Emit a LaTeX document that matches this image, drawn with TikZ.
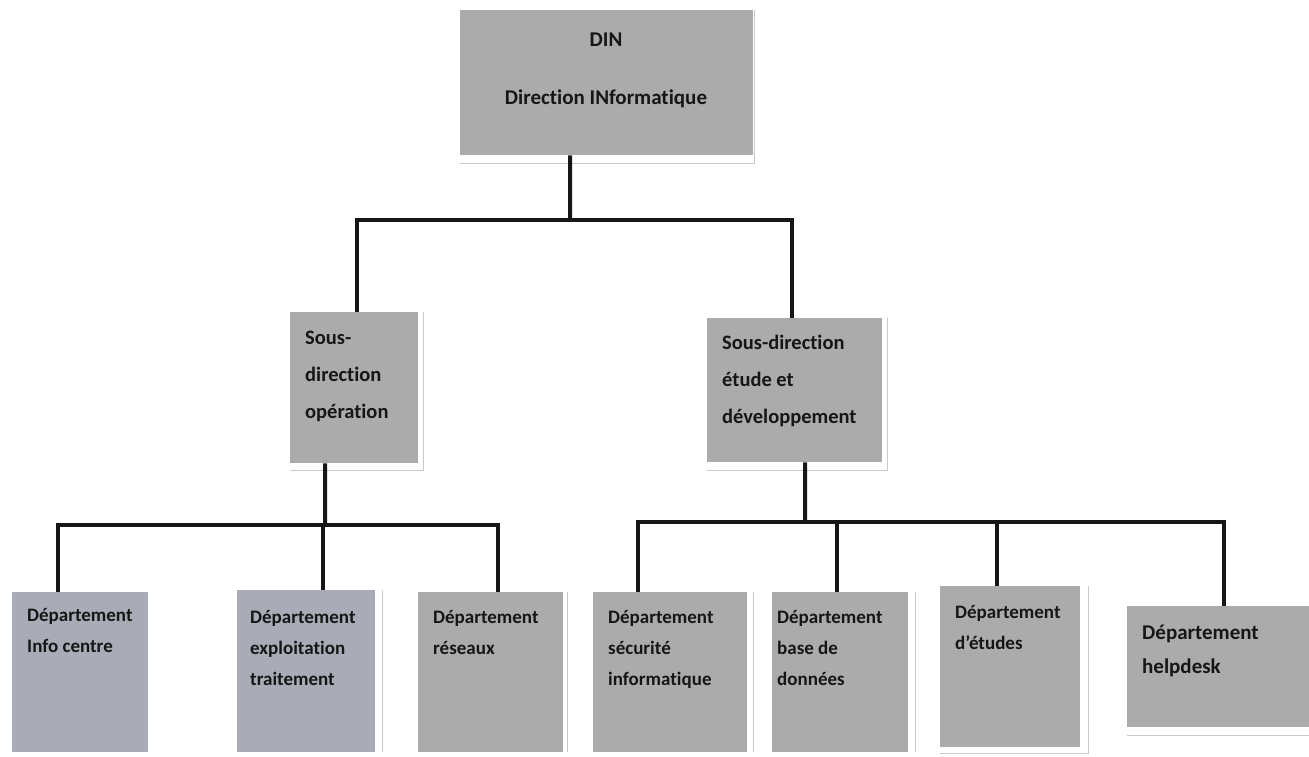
\documentclass[tikz,border=0pt]{standalone}
\usepackage{fontspec}
\setmainfont[Ligatures=NoCommon]{Carlito}
\definecolor{boxgray}{HTML}{ABABAB}
\definecolor{boxblue}{HTML}{A9ACB6}
\definecolor{edgegray}{HTML}{C9C9C9}
\definecolor{ink}{HTML}{161616}
\begin{document}
\begin{tikzpicture}[x=1pt,y=-1pt,
  orgbox/.style={rectangle, fill=boxgray, draw=none, inner sep=0pt, anchor=north west},
  shadowline/.style={draw=edgegray, line width=1.6pt},
  conn/.style={draw=ink, line width=4pt, line join=miter},
  % multi-line labels are placed by the baseline of their last line
  toptxt/.style={text=ink, inner sep=0pt, align=center, anchor=base,
    font={\fontsize{21}{30}\selectfont\bfseries}},
  subtxt/.style={text=ink, inner sep=0pt, align=left, anchor=base west,
    font={\fontsize{20.5}{37}\selectfont\bfseries}},
  deptxt/.style={text=ink, inner sep=0pt, align=left, anchor=base west,
    font={\fontsize{19}{31}\selectfont\bfseries}}
]
\useasboundingbox[fill=white] (0,0) rectangle (1309,756);

% boxes: top, sub-directions, departments
\node[orgbox, minimum width=293pt, minimum height=145pt] (din) at (460,10) {};
\node[orgbox, minimum width=128pt, minimum height=151pt] (sod) at (290,312) {};
\node[orgbox, minimum width=175pt, minimum height=144pt] (sed) at (707,318) {};
\node[orgbox, fill=boxblue, minimum width=136pt, minimum height=160pt] (b1) at (12,592) {};
\node[orgbox, fill=boxblue, minimum width=138pt, minimum height=162pt] (b2) at (237,590) {};
\node[orgbox, minimum width=145pt, minimum height=160pt] (b3) at (418,592) {};
\node[orgbox, minimum width=154pt, minimum height=160pt] (b4) at (593,592) {};
\node[orgbox, minimum width=136pt, minimum height=160pt] (b5) at (772,592) {};
\node[orgbox, minimum width=140pt, minimum height=161pt] (b6) at (940,586) {};
\node[orgbox, minimum width=182pt, minimum height=121pt] (b7) at (1127,606) {};

% thin frame lines along the right and bottom edges
\draw[shadowline] ([yshift=-8pt]din.south west) -| ([xshift=1pt]din.north east);
\draw[shadowline] ([yshift=-7pt]sod.south west) -| ([xshift=5pt]sod.north east);
\draw[shadowline] ([yshift=-8pt]sed.south west) -| ([xshift=5pt]sed.north east);
\draw[shadowline] ([xshift=7pt]b2.north east) -- ([xshift=7pt]b2.south east);
\draw[shadowline] ([xshift=4pt]b3.north east) -- ([xshift=4pt]b3.south east);
\draw[shadowline] ([xshift=6pt]b4.north east) -- ([xshift=6pt]b4.south east);
\draw[shadowline] ([xshift=7pt]b5.north east) -- ([xshift=7pt]b5.south east);
\draw[shadowline] ([yshift=-6pt]b6.south west) -| ([xshift=8pt]b6.north east);
\draw[shadowline] ([yshift=-8pt]b7.south west) -- ([yshift=-8pt]b7.south east);

% connectors
\coordinate (busA) at (570,220);
\coordinate (busB) at (325,525);
\coordinate (busC) at (805,522);
\draw[conn] ([xshift=-36.5pt]din.south) -- (busA);
\draw[conn] ([xshift=3pt]sod.north) |- (busA) -| ([xshift=-2.5pt]sed.north);
\draw[conn] ([xshift=-29pt]sod.south) -- (busB);
\draw[conn] ([xshift=-22pt]b1.north) |- (busB) -| ([xshift=7.5pt]b3.north);
\draw[conn] ([xshift=17pt]b2.north) -- ([xshift=17pt]b2.north |- busB);
\draw[conn] ([xshift=10.5pt]sed.south) -- (busC);
\draw[conn] ([xshift=-32pt]b4.north) |- (busC) -| ([xshift=6pt]b7.north);
\draw[conn] ([xshift=-3pt]b5.north) -- ([xshift=-3pt]b5.north |- busC);
\draw[conn] ([xshift=-13pt]b6.north) -- ([xshift=-13pt]b6.north |- busC);

% labels
\node[toptxt] (dint) at (606,104) {DIN\\[28pt]Direction INformatique};
\node[subtxt] (sodt) at (305,418) {Sous-\\direction\\opération};
\node[subtxt] (sedt) at (722,423) {Sous-direction\\étude et\\développement};
\node[deptxt] (b1t) at (27,652) {Département\\Info centre};
\node[deptxt] (b2t) at (250,685) {Département\\exploitation\\traitement};
\node[deptxt] (b3t) at (433,654) {Département\\réseaux};
\node[deptxt] (b4t) at (608,685) {Département\\sécurité\\informatique};
\node[deptxt] (b5t) at (777,685) {Département\\base de\\données};
\node[deptxt] (b6t) at (955,649) {Département\\d’études};
\node[deptxt, font={\fontsize{21}{34}\selectfont\bfseries}] (b7t) at (1142,673) {Département\\helpdesk};
\end{tikzpicture}
\end{document}
